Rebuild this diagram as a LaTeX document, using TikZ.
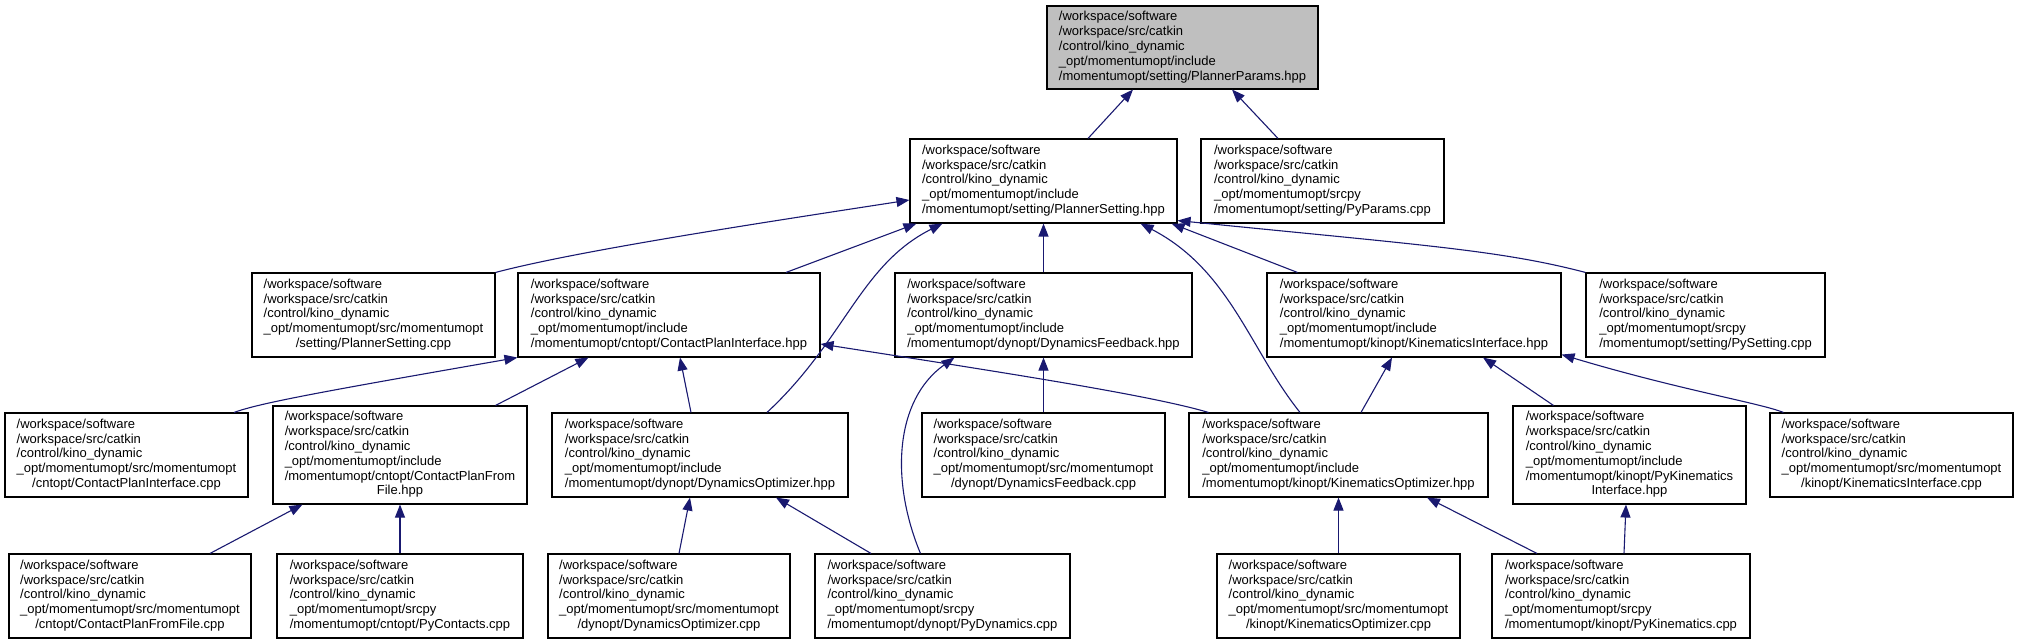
\documentclass[tikz,border=0pt]{standalone}
\usepackage{fontspec}
\setmainfont{Liberation Sans}
\usetikzlibrary{arrows.meta}
\definecolor{edgeblue}{HTML}{191970}
\definecolor{rootgray}{HTML}{BFBFBF}
\newcommand{\wspfx}{/workspace/software\\/workspace/src/catkin\\/control/kino\_dynamic}
\newcommand{\dlabel}[2]{\begin{tabular}{@{}l@{}}#1\\\multicolumn{1}{@{}c@{}}{#2}\end{tabular}}
\begin{document}
\begin{tikzpicture}[x=1pt,y=-1pt,
  box/.style={draw=black, line width=1.1pt, inner sep=0pt, anchor=center,
    font=\fontsize{13}{14.8}\selectfont, minimum height=84pt},
  tall/.style={minimum height=98pt},
  dep/.style={draw=edgeblue, line width=1.1pt, -{Triangle[length=13pt,width=10pt]}}]
\useasboundingbox (0,0) rectangle (2019,644);
% row 0
\node[box, fill=rootgray, minimum width=271pt, minimum height=83pt] (pp) at (1182.5,47.5)
  {\dlabel{\wspfx\\\_opt/momentumopt/include}{/momentumopt/setting/PlannerParams.hpp}};
% row 1
\node[box, minimum width=267pt] (ps) at (1043.5,181)
  {\dlabel{\wspfx\\\_opt/momentumopt/include}{/momentumopt/setting/PlannerSetting.hpp}};
\node[box, minimum width=243pt] (pyp) at (1322.5,181)
  {\dlabel{\wspfx\\\_opt/momentumopt/srcpy}{/momentumopt/setting/PyParams.cpp}};
% row 2
\node[box, minimum width=243pt] (pscpp) at (373.5,315)
  {\dlabel{\wspfx\\\_opt/momentumopt/src/momentumopt}{/setting/PlannerSetting.cpp}};
\node[box, minimum width=302pt] (cpih) at (669,315)
  {\dlabel{\wspfx\\\_opt/momentumopt/include}{/momentumopt/cntopt/ContactPlanInterface.hpp}};
\node[box, minimum width=297pt] (dfh) at (1043.5,315)
  {\dlabel{\wspfx\\\_opt/momentumopt/include}{/momentumopt/dynopt/DynamicsFeedback.hpp}};
\node[box, minimum width=294pt] (kih) at (1414,315)
  {\dlabel{\wspfx\\\_opt/momentumopt/include}{/momentumopt/kinopt/KinematicsInterface.hpp}};
\node[box, minimum width=239pt] (pys) at (1705.5,315)
  {\dlabel{\wspfx\\\_opt/momentumopt/srcpy}{/momentumopt/setting/PySetting.cpp}};
% row 3
\node[box, minimum width=243pt] (cpicpp) at (126.5,455)
  {\dlabel{\wspfx\\\_opt/momentumopt/src/momentumopt}{/cntopt/ContactPlanInterface.cpp}};
\node[box, tall, minimum width=254pt] (cpffh) at (400,455)
  {\dlabel{\wspfx\\\_opt/momentumopt/include\\/momentumopt/cntopt/ContactPlanFrom}{File.hpp}};
\node[box, minimum width=296pt] (doh) at (700,455)
  {\dlabel{\wspfx\\\_opt/momentumopt/include}{/momentumopt/dynopt/DynamicsOptimizer.hpp}};
\node[box, minimum width=243pt] (dfcpp) at (1043.5,455)
  {\dlabel{\wspfx\\\_opt/momentumopt/src/momentumopt}{/dynopt/DynamicsFeedback.cpp}};
\node[box, minimum width=299pt] (koh) at (1338.5,455)
  {\dlabel{\wspfx\\\_opt/momentumopt/include}{/momentumopt/kinopt/KinematicsOptimizer.hpp}};
\node[box, tall, minimum width=233pt] (pkih) at (1629.5,455)
  {\dlabel{\wspfx\\\_opt/momentumopt/include\\/momentumopt/kinopt/PyKinematics}{Interface.hpp}};
\node[box, minimum width=243pt] (kicpp) at (1891.5,455)
  {\dlabel{\wspfx\\\_opt/momentumopt/src/momentumopt}{/kinopt/KinematicsInterface.cpp}};
% row 4
\node[box, minimum width=242pt] (cpffcpp) at (130,596)
  {\dlabel{\wspfx\\\_opt/momentumopt/src/momentumopt}{/cntopt/ContactPlanFromFile.cpp}};
\node[box, minimum width=246pt] (pyc) at (400,596)
  {\dlabel{\wspfx\\\_opt/momentumopt/srcpy}{/momentumopt/cntopt/PyContacts.cpp}};
\node[box, minimum width=242pt] (docpp) at (669,596)
  {\dlabel{\wspfx\\\_opt/momentumopt/src/momentumopt}{/dynopt/DynamicsOptimizer.cpp}};
\node[box, minimum width=255pt] (pyd) at (942.5,596)
  {\dlabel{\wspfx\\\_opt/momentumopt/srcpy}{/momentumopt/dynopt/PyDynamics.cpp}};
\node[box, minimum width=243pt] (kocpp) at (1338.5,596)
  {\dlabel{\wspfx\\\_opt/momentumopt/src/momentumopt}{/kinopt/KinematicsOptimizer.cpp}};
\node[box, minimum width=258pt] (pyk) at (1621,596)
  {\dlabel{\wspfx\\\_opt/momentumopt/srcpy}{/momentumopt/kinopt/PyKinematics.cpp}};
% edges
\draw[dep] ([xshift=44.5pt]ps.north) -- ([xshift=-49.5pt]pp.south);
\draw[dep] ([xshift=-44.5pt]pyp.north) -- ([xshift=49.5pt]pp.south);
\draw[dep] (pscpp.north east) .. controls (580,250) and (780,220) .. ([yshift=-19pt]ps.west);
\draw[dep] ([xshift=117pt]cpih.north) -- ([xshift=7pt]ps.south west);
\draw[dep] ([xshift=67pt]doh.north) .. controls (845,340) and (860,265) .. ([xshift=33pt]ps.south west);
\draw[dep] (dfh.north) -- (ps.south);
\draw[dep] ([xshift=-38.5pt]koh.north) .. controls (1250,350) and (1230,270) .. ([xshift=-37pt]ps.south east);
\draw[dep] ([xshift=31pt]kih.north west) -- ([xshift=-6pt]ps.south east);
\draw[dep] (pys.north west) .. controls (1500,250) and (1420,245) .. ([yshift=3pt]ps.south east);
\draw[dep] ([xshift=107.5pt]cpicpp.north) .. controls (260,403) and (320,392) .. (cpih.south west);
\draw[dep] ([xshift=-32pt]cpffh.north east) -- ([xshift=71pt]cpih.south west);
\draw[dep] ([xshift=-9pt]doh.north) -- ([xshift=11pt]cpih.south);
\draw[dep] ([xshift=20pt]koh.north west) .. controls (1150,395) and (1000,372) .. ([yshift=-29pt]cpih.east);
\draw[dep] ([xshift=106pt]pyd.north west) .. controls (890,480) and (895,400) .. ([xshift=60pt]dfh.south west);
\draw[dep] (dfcpp.north) -- (dfh.south);
\draw[dep] ([xshift=22.5pt]koh.north) -- ([xshift=-22pt]kih.south);
\draw[dep] ([xshift=41pt]pkih.north west) -- ([xshift=69pt]kih.south);
\draw[dep] ([xshift=14pt]kicpp.north west) .. controls (1760,403) and (1680,390) .. ([yshift=3pt]kih.south east);
\draw[dep] ([xshift=80pt]cpffcpp.north) -- ([xshift=30pt]cpffh.south west);
\draw[dep] (pyc.north) -- (cpffh.south);
\draw[dep] ([xshift=10pt]docpp.north) -- ([xshift=-10pt]doh.south);
\draw[dep] ([xshift=-71.5pt]pyd.north) -- ([xshift=76pt]doh.south);
\draw[dep] (kocpp.north) -- (koh.south);
\draw[dep] ([xshift=-84pt]pyk.north) -- ([xshift=88.5pt]koh.south);
\draw[dep] ([xshift=3pt]pyk.north) -- ([xshift=-3.5pt]pkih.south);
\end{tikzpicture}
\end{document}
